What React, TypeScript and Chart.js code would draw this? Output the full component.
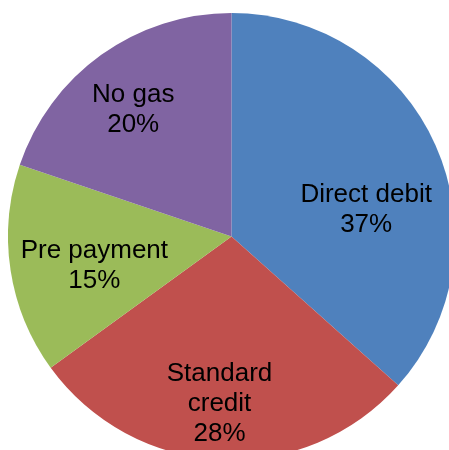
import React, { useEffect, useRef } from "react";
import { Chart, registerables } from "chart.js";

Chart.register(...registerables);

const categories = ["Direct debit", "Standard credit", "Pre payment", "No gas"];
const values = [36.6, 28.4, 15.2, 19.8];
const labelLines = [["Direct debit"], ["Standard", "credit"], ["Pre payment"], ["No gas"]];
const colors = ["#4F81BD", "#C0504D", "#9BBB59", "#8064A2"];
// label placement: fraction of radius and angular shift (degrees) from slice middle
const labelRadiusFrac = [0.614, 0.752, 0.628, 0.717];
const labelAngleShift = [13, 1.2, -3.6, -2.2];

const labelPlugin = {
  id: "sliceLabels",
  afterDatasetsDraw(chart: any) {
    const ctx = chart.ctx;
    const meta = chart.getDatasetMeta(0);
    const data = chart.data.datasets[0].data as number[];
    const total = data.reduce((a, b) => a + b, 0);
    ctx.save();
    ctx.fillStyle = "#000000";
    ctx.font = '26px "Liberation Sans", Arial, sans-serif';
    ctx.textAlign = "center";
    ctx.textBaseline = "middle";
    const lineH = 30;
    meta.data.forEach((arc: any, i: number) => {
      const p = arc.getProps(["x", "y", "startAngle", "endAngle", "outerRadius"], true);
      const mid = (p.startAngle + p.endAngle) / 2 + (labelAngleShift[i] * Math.PI) / 180;
      const r = p.outerRadius * labelRadiusFrac[i];
      const cx = p.x + Math.cos(mid) * r;
      const cy = p.y + Math.sin(mid) * r;
      const lines = [...labelLines[i], Math.round((data[i] / total) * 100) + "%"];
      const startY = cy - ((lines.length - 1) * lineH) / 2;
      lines.forEach((t, j) => ctx.fillText(t, cx, startY + j * lineH));
    });
    ctx.restore();
  },
};

export default function App() {
  const ref = useRef<HTMLCanvasElement>(null);
  useEffect(() => {
    if (!ref.current) return;
    const chart = new Chart(ref.current, {
      type: "pie",
      data: {
        labels: categories,
        datasets: [
          {
            data: values,
            backgroundColor: colors,
            borderWidth: 0,
          },
        ],
      },
      options: {
        responsive: false,
        animation: false,
        layout: { padding: 0 },
        plugins: {
          legend: { display: false },
          tooltip: { enabled: false },
        },
      },
      plugins: [labelPlugin],
    });
    return () => chart.destroy();
  }, []);
  return (
    <div
      style={{
        position: "fixed",
        left: 0,
        top: 0,
        width: 449,
        height: 450,
        overflow: "hidden",
        background: "#ffffff",
      }}
    >
      <canvas
        ref={ref}
        width={447}
        height={447}
        style={{ position: "absolute", left: 8, top: 13, width: 447, height: 447 }}
      />
    </div>
  );
}
